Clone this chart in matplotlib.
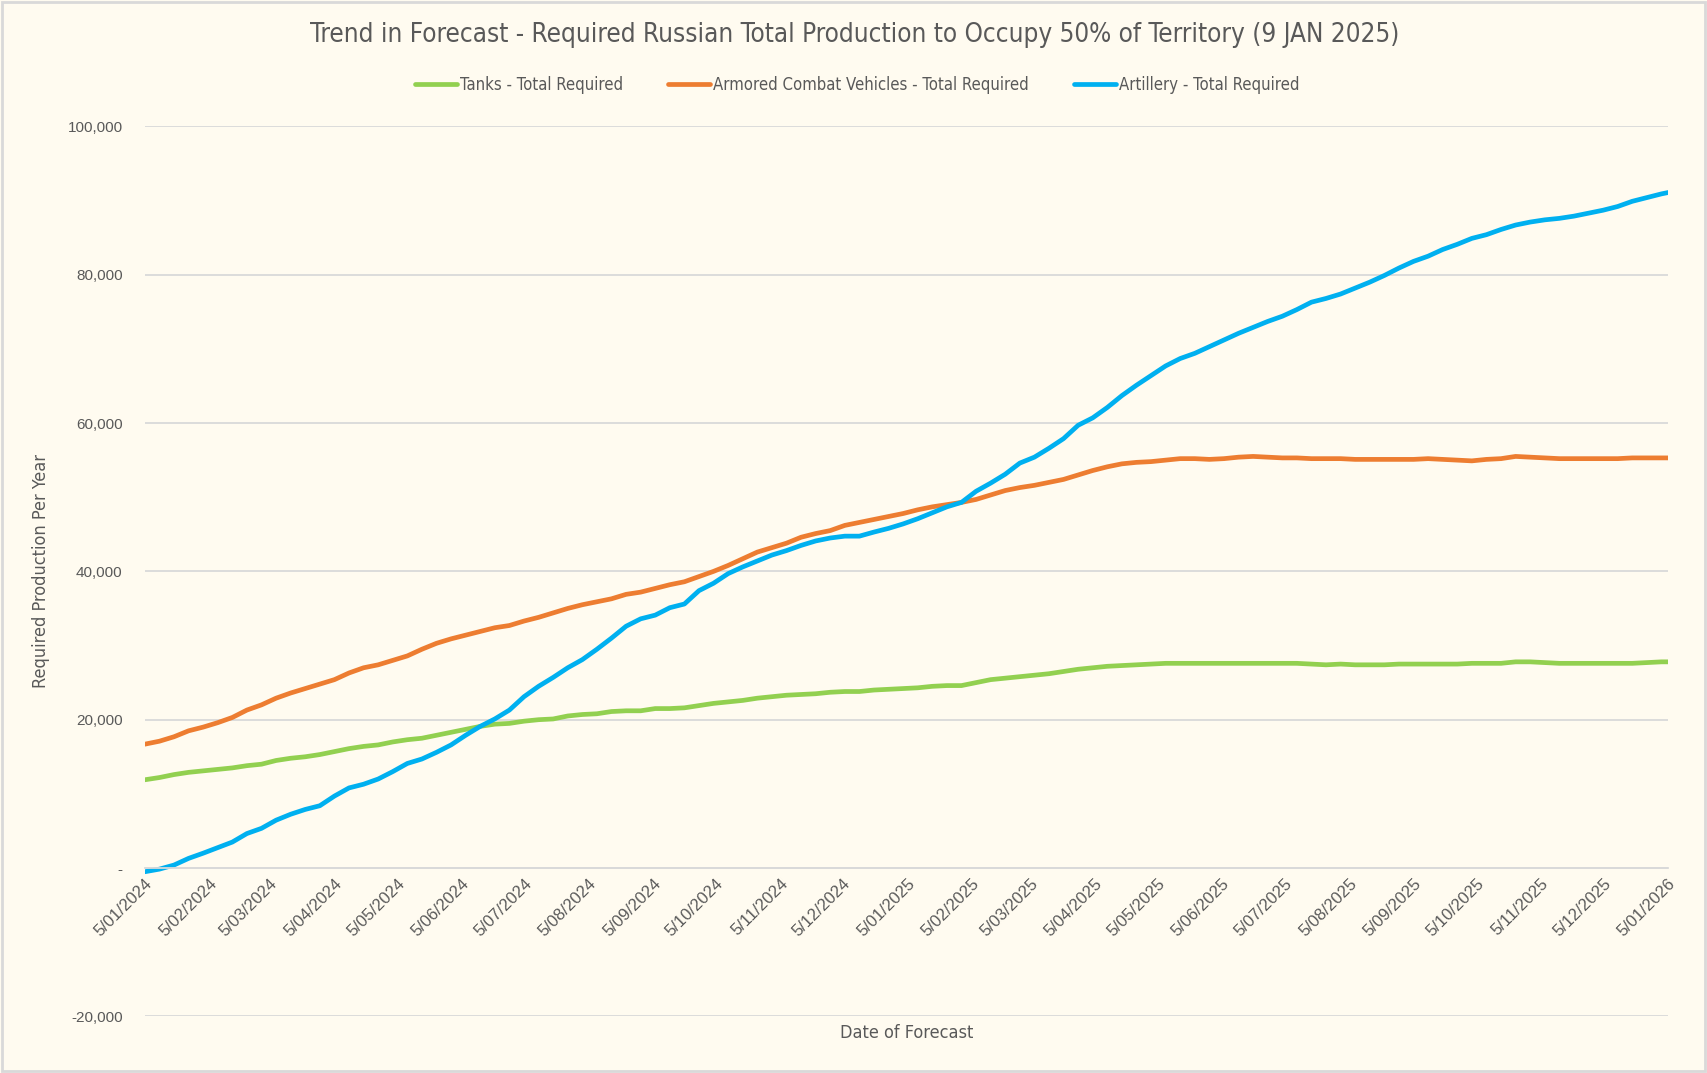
import matplotlib
matplotlib.use("Agg")
import matplotlib.pyplot as plt
import matplotlib.patches as patches
import pandas as pd

# weekly forecast dates (5 Jan 2024 onwards)
dates = pd.date_range("2024-01-05", periods=106, freq="7D")

tanks = [
    11900, 12200, 12600, 12900, 13100, 13300, 13500, 13800, 14000, 14500,
    14800, 15000, 15300, 15700, 16100, 16400, 16600, 17000, 17300, 17500,
    17900, 18300, 18700, 19100, 19400, 19500, 19800, 20000, 20100, 20500,
    20700, 20800, 21100, 21200, 21200, 21500, 21500, 21600, 21900, 22200,
    22400, 22600, 22900, 23100, 23300, 23400, 23500, 23700, 23800, 23800,
    24000, 24100, 24200, 24300, 24500, 24600, 24600, 25000, 25400, 25600,
    25800, 26000, 26200, 26500, 26800, 27000, 27200, 27300, 27400, 27500,
    27600, 27600, 27600, 27600, 27600, 27600, 27600, 27600, 27600, 27600,
    27500, 27400, 27500, 27400, 27400, 27400, 27500, 27500, 27500, 27500,
    27500, 27600, 27600, 27600, 27800, 27800, 27700, 27600, 27600, 27600,
    27600, 27600, 27600, 27700, 27800, 27800,
]

acv = [
    16700, 17100, 17700, 18500, 19000, 19600, 20300, 21300, 22000, 22900,
    23600, 24200, 24800, 25400, 26300, 27000, 27400, 28000, 28600, 29500,
    30300, 30900, 31400, 31900, 32400, 32700, 33300, 33800, 34400, 35000,
    35500, 35900, 36300, 36900, 37200, 37700, 38200, 38600, 39300, 40000,
    40800, 41700, 42600, 43200, 43800, 44600, 45100, 45500, 46200, 46600,
    47000, 47400, 47800, 48300, 48700, 49000, 49300, 49700, 50300, 50900,
    51300, 51600, 52000, 52400, 53000, 53600, 54100, 54500, 54700, 54800,
    55000, 55200, 55200, 55100, 55200, 55400, 55500, 55400, 55300, 55300,
    55200, 55200, 55200, 55100, 55100, 55100, 55100, 55100, 55200, 55100,
    55000, 54900, 55100, 55200, 55500, 55400, 55300, 55200, 55200, 55200,
    55200, 55200, 55300, 55300, 55300, 55300,
]

artillery = [
    -500, -150, 400, 1300, 2000, 2750, 3500, 4650, 5350, 6450,
    7250, 7900, 8400, 9700, 10800, 11300, 12000, 13000, 14100, 14700,
    15600, 16600, 17900, 19100, 20100, 21300, 23100, 24500, 25700, 27000,
    28100, 29500, 31000, 32600, 33600, 34100, 35100, 35600, 37400, 38400,
    39700, 40600, 41400, 42200, 42800, 43500, 44100, 44500, 44750, 44750,
    45300, 45800, 46400, 47100, 47900, 48700, 49300, 50800, 51900, 53100,
    54600, 55400, 56600, 57900, 59700, 60700, 62100, 63700, 65100, 66400,
    67700, 68700, 69400, 70300, 71200, 72100, 72900, 73700, 74400, 75300,
    76300, 76800, 77400, 78200, 79000, 79900, 80900, 81800, 82500, 83400,
    84100, 84900, 85400, 86100, 86700, 87100, 87400, 87600, 87900, 88300,
    88700, 89200, 89900, 90400, 90900, 91300,
]

series_names = [
    "Tanks - Total Required",
    "Armored Combat Vehicles - Total Required",
    "Artillery - Total Required",
]
series_colors = ["#92D050", "#ED7D31", "#00B0F0"]

tick_dates = [pd.Timestamp(y, m, 5) for y in (2024, 2025) for m in range(1, 13)]
tick_dates.append(pd.Timestamp(2026, 1, 5))
tick_labels = [f"{d.day}/{d.month:02d}/{d.year}" for d in tick_dates]
y_ticks = [-20000, 0, 20000, 40000, 60000, 80000, 100000]

bg = "#FFFBF0"
txt = "#595959"
grid = "#D9D9D9"
narrow = ["Liberation Sans Narrow", "DejaVu Sans"]
plt.rcParams["font.family"] = ["Liberation Sans", "DejaVu Sans"]

fig = plt.figure(figsize=(17.08, 10.73), dpi=100, facecolor=bg)
ax = fig.add_axes([0.0848, 0.0528, 0.8916, 0.8294])
ax.set_facecolor(bg)

for vals, name, col in zip([tanks, acv, artillery], series_names, series_colors):
    ax.plot(dates, vals, color=col, lw=3.4, label=name, solid_capstyle="round")

ax.set_xlim(tick_dates[0], tick_dates[-1])
ax.set_ylim(-20000, 100000)
ax.set_yticks(y_ticks, labels=["-" if v == 0 else f"{v:,}" for v in y_ticks])
ax.set_xticks(tick_dates, labels=tick_labels)
ax.tick_params(axis="y", length=0, pad=16, labelsize=11, labelcolor=txt)
ax.tick_params(axis="x", length=0, pad=6, labelsize=12, labelcolor=txt)
ax.grid(axis="y", color=grid, lw=1.3)
ax.set_axisbelow(True)
for s in ["top", "left", "right"]:
    ax.spines[s].set_visible(False)
ax.spines["bottom"].set_position(("data", 0))
ax.spines["bottom"].set_color(grid)
ax.spines["bottom"].set_linewidth(1.3)

fig.text(0.5003, 0.9675, "Trend in Forecast - Required Russian Total Production to Occupy 50% of Territory (9 JAN 2025)",
         ha="center", va="center", fontsize=18.7, color=txt, family=narrow,
         fontstretch="condensed")
fig.text(0.5306, 0.0376, "Date of Forecast", ha="center", va="center",
         fontsize=13, color=txt, family=narrow, fontstretch="condensed")
fig.text(0.0242, 0.468, "Required Production Per Year", ha="center", va="center",
         rotation=90, fontsize=13, color=txt, family=narrow, fontstretch="condensed")

leg = fig.legend(loc="center", bbox_to_anchor=(0.502, 0.921), ncol=3, frameon=False,
                 handlelength=2.5, handletextpad=0.2, columnspacing=2.7,
                 prop={"family": narrow, "size": 12, "stretch": "condensed"})
for t in leg.get_texts():
    t.set_color(txt)

fig.patches.append(patches.Rectangle((0.001, 0.002), 0.997, 0.996, transform=fig.transFigure,
                                     fill=False, edgecolor=grid, lw=2))

# rotate date labels once the ticks exist
fig.canvas.draw()
for lbl in ax.get_xticklabels():
    lbl.set_rotation(45)
    lbl.set_horizontalalignment("right")
    lbl.set_verticalalignment("top")
    lbl.set_rotation_mode("anchor")

fig.savefig("out.png", dpi=100, facecolor=bg)
